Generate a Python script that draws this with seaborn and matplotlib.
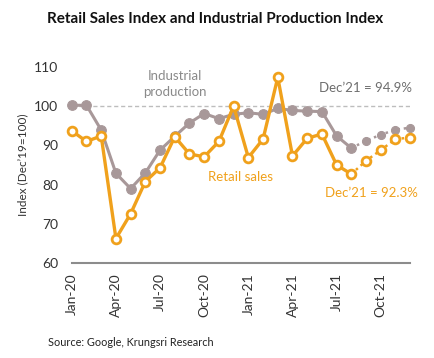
import matplotlib
matplotlib.use("Agg")
import matplotlib.pyplot as plt
import numpy as np
import pandas as pd
import seaborn as sns

months = pd.date_range("2020-01-01", "2021-12-01", freq="MS").strftime("%b-%y").tolist()
industrial = [100.2, 100.2, 93.9, 82.9, 79.0, 83.0, 88.8, 92.3, 95.7, 98.1, 96.8, 97.9,
              98.3, 97.9, 99.4, 98.9, 98.7, 98.6, 92.4, 89.3, 91.2, 92.7, 94.0, 94.5]
retail = [93.7, 91.0, 92.4, 66.3, 72.6, 80.8, 84.3, 92.2, 87.8, 87.1, 91.0, 100.0,
          86.9, 91.6, 107.3, 87.3, 91.8, 92.9, 85.0, 82.7, 86.1, 88.8, 91.6, 92.0]
tick_labels = ["Jan-20", "Apr-20", "Jul-20", "Oct-20", "Jan-21", "Apr-21", "Jul-21", "Oct-21"]
last_actual = "Aug-21"

ORANGE = "#F0A11C"
GRAY = "#A89899"

df = pd.DataFrame({"month": months, "Industrial": industrial, "Retail": retail})
df["x"] = np.arange(len(df))
cut = months.index(last_actual)
actual = df.iloc[: cut + 1]
fcst = df.iloc[cut:]

sns.set_style("white")
plt.rcParams["font.family"] = ["Lato", "DejaVu Sans"]

fig = plt.figure(figsize=(4.35, 3.58), dpi=100)
ax = fig.add_axes([0.165, 0.2645, 0.778, 0.549])

ax.axhline(100, color="#BDBDBD", lw=1, ls=(0, (3, 2)), zorder=1)

# industrial production: filled markers, dotted tail after last actual month
sns.lineplot(data=actual, x="x", y="Industrial", ax=ax, color=GRAY, lw=2.2,
             marker="o", markersize=7, markeredgecolor=GRAY, clip_on=False, zorder=3)
sns.lineplot(data=fcst.iloc[1:], x="x", y="Industrial", ax=ax, color=GRAY, lw=0,
             marker="o", markersize=5.8, markeredgecolor=GRAY, clip_on=False, zorder=3)
ax.plot(fcst["x"], fcst["Industrial"], color=GRAY, lw=1.8, ls=(0, (1, 1.5)), zorder=2)

# retail sales: open markers
sns.lineplot(data=actual, x="x", y="Retail", ax=ax, color=ORANGE, lw=2.4,
             marker="o", markersize=6.3, markerfacecolor="white", markeredgewidth=2,
             markeredgecolor=ORANGE, clip_on=False, zorder=4)
sns.lineplot(data=fcst.iloc[1:], x="x", y="Retail", ax=ax, color=ORANGE, lw=0,
             marker="o", markersize=6.3, markerfacecolor="white", markeredgewidth=2,
             markeredgecolor=ORANGE, clip_on=False, zorder=4)
ax.plot(fcst["x"], fcst["Retail"], color=ORANGE, lw=1.8, ls=(0, (1, 1.5)), zorder=2)

ax.set_xlim(0, len(months) - 1)
ax.set_ylim(60, 110)
ax.set_yticks(range(60, 111, 10))
ax.set_xticks([months.index(t) for t in tick_labels])
ax.set_xticklabels(tick_labels, rotation=90, fontsize=10, color="#333333")
ax.tick_params(axis="y", labelsize=10, colors="#333333", length=0, pad=10)
ax.tick_params(axis="x", length=0, pad=7)
ax.set_xlabel("")
ax.set_ylabel("Index (Dec\u201919=100)", fontsize=8.5, color="#333333", labelpad=4)
sns.despine(ax=ax, left=True)
ax.spines["bottom"].set_color("#8C8C8C")
ax.spines["bottom"].set_linewidth(1.5)

ax.text(7.0, 105.6, "Industrial\nproduction", color="#8A8A8A", fontsize=9.5,
        ha="center", va="center", linespacing=1.35)
ax.text(11.5, 82.0, "Retail sales", color=ORANGE, fontsize=9.5, ha="center", va="center")
ax.text(23.1, 104.5, "Dec\u201921 = 94.9%", color="#6E6E6E", fontsize=9.5, ha="right", va="center")
ax.text(23.5, 77.8, "Dec\u201921 = 92.3%", color=ORANGE, fontsize=9.5, ha="right", va="center")

fig.text(0.495, 0.948, "Retail Sales Index and Industrial Production Index", ha="center",
         va="center", fontsize=11, fontweight="bold", color="#111111")
fig.text(0.11, 0.042, "Source: Google, Krungsri Research", fontsize=7.8, color="#222222",
         ha="left", va="center")

fig.savefig("out.png", dpi=100)
